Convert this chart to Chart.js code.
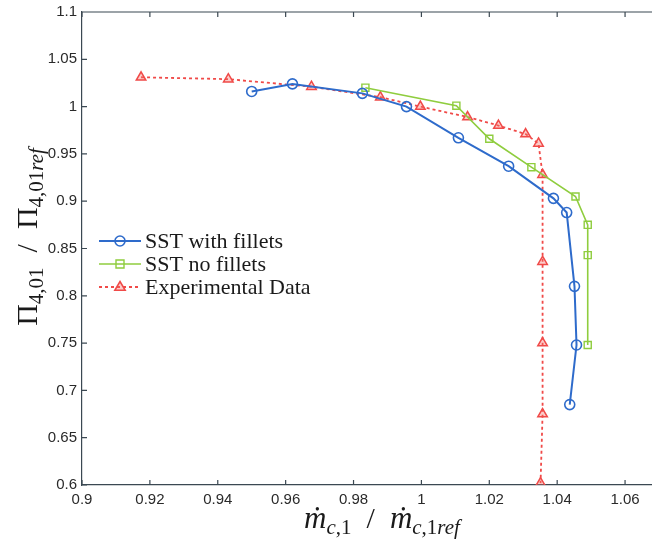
<!DOCTYPE html>
<html>
<head>
<meta charset="utf-8">
<script src="https://cdn.jsdelivr.net/npm/chart.js@4/dist/chart.umd.min.js"></script>
<style>
  html, body { margin: 0; background: #fff; overflow: hidden; }
  #wrap { width: 652px; height: 539px; overflow: hidden; }
  #inner { width: 666px; height: 539px; }
</style>
</head>
<body>
<div id="wrap"><div id="inner"><canvas id="chart" width="666" height="539"></canvas></div></div>
<script>
// valores
const sstFilletsX = [0.950, 0.962, 0.9826, 0.9956, 1.0109, 1.0257, 1.0389, 1.0428, 1.0451, 1.0457, 1.0437];
const sstFilletsY = [1.016, 1.024, 1.014, 1.000, 0.967, 0.937, 0.903, 0.888, 0.810, 0.748, 0.685];

const sstNoFilletsX = [0.9835, 1.0103, 1.0200, 1.0324, 1.0454, 1.0490, 1.0490, 1.0490];
const sstNoFilletsY = [1.020, 1.001, 0.966, 0.936, 0.905, 0.875, 0.843, 0.748];

const expX = [0.9174, 0.9431, 0.9676, 0.9879, 0.9997, 1.0136, 1.0227, 1.0307, 1.0345, 1.0357, 1.0357, 1.0357, 1.0357, 1.0351];
const expY = [1.031, 1.029, 1.021, 1.010, 1.000, 0.989, 0.980, 0.971, 0.961, 0.928, 0.836, 0.750, 0.675, 0.602];

// el eje x llega a 1.07 pero la figura esta cortada a la derecha (overflow hidden)
const xTicks = [0.9, 1.07, 0.02];
const yTicks = [0.6, 1.1, 0.05];

const toPoints = (xs, ys) => xs.map((x, i) => ({x: x, y: ys[i]}));

const axisColor = '#3b4852';
const fmt = v => String(Number(v.toFixed(2)));

// marcas hacia adentro, borde superior, leyenda y titulos con subindices
const extras = {
  id: 'extras',
  afterDraw(chart) {
    const c = chart.ctx;
    const a = chart.chartArea;
    const xs = chart.scales.x, ys = chart.scales.y;
    c.save();
    c.strokeStyle = axisColor;
    c.lineWidth = 1.2;
    c.beginPath();
    c.moveTo(a.left, a.top); c.lineTo(a.right, a.top);
    xs.ticks.forEach(t => {
      const px = xs.getPixelForValue(t.value);
      c.moveTo(px, a.bottom); c.lineTo(px, a.bottom - 5);
      c.moveTo(px, a.top); c.lineTo(px, a.top + 5);
    });
    ys.ticks.forEach(t => {
      const py = ys.getPixelForValue(t.value);
      c.moveTo(a.left, py); c.lineTo(a.left + 5, py);
    });
    c.stroke();

    // leyenda
    chart.data.datasets.forEach((ds, i) => {
      const y = 241 + i * 23;
      c.strokeStyle = ds.borderColor;
      c.lineWidth = ds.borderWidth;
      c.setLineDash(ds.borderDash || []);
      c.beginPath(); c.moveTo(99, y); c.lineTo(141, y); c.stroke();
      c.setLineDash([]);
      drawMarker(c, ds.pointStyle, 120, y, ds.pointRadius, ds.pointBackgroundColor, ds.borderColor, ds.pointBorderWidth);
      c.fillStyle = '#1a1a1a';
      c.font = '22px "Liberation Serif"';
      c.textBaseline = 'middle';
      c.textAlign = 'left';
      c.fillText(ds.label, 145, y + 1);
    });

    // titulos
    const big = 'italic 31px "Liberation Serif"';
    const bigUp = '30px "Liberation Serif"';
    const sub = 'italic 21px "Liberation Serif"';
    const subUp = '21px "Liberation Serif"';
    const xTitle = [
      {t: '\u1E41', f: big, dy: 0}, {t: 'c', f: sub, dy: 6}, {t: ',1', f: subUp, dy: 6},
      {t: '  /  ', f: bigUp, dy: 0},
      {t: '\u1E41', f: big, dy: 0}, {t: 'c', f: sub, dy: 6}, {t: ',1', f: subUp, dy: 6}, {t: 'ref', f: sub, dy: 6}
    ];
    const yTitle = [
      {t: '\u03A0', f: bigUp, dy: 0}, {t: '4,01', f: subUp, dy: 6},
      {t: '  /  ', f: bigUp, dy: 0},
      {t: '\u03A0', f: bigUp, dy: 0}, {t: '4,01', f: subUp, dy: 6}, {t: 'ref', f: sub, dy: 6}
    ];
    drawRich(c, xTitle, 382, 520, 0);
    drawRich(c, yTitle, 29, 237, -Math.PI / 2);
    c.restore();
  }
};

function drawMarker(c, style, x, y, r, fill, stroke, lw) {
  c.save();
  c.fillStyle = fill;
  c.strokeStyle = stroke;
  c.lineWidth = lw;
  c.beginPath();
  if (style === 'circle') {
    c.arc(x, y, r, 0, Math.PI * 2);
  } else if (style === 'rect') {
    c.rect(x - r * 0.8, y - r * 0.8, r * 1.6, r * 1.6);
  } else {
    c.moveTo(x, y - r);
    c.lineTo(x + r * 0.95, y + r * 0.6);
    c.lineTo(x - r * 0.95, y + r * 0.6);
    c.closePath();
  }
  c.fill();
  c.stroke();
  c.restore();
}

function drawRich(c, parts, cx, cy, rot) {
  c.save();
  c.translate(cx, cy);
  c.rotate(rot);
  c.fillStyle = '#1a1a1a';
  c.textBaseline = 'alphabetic';
  c.textAlign = 'left';
  let w = 0;
  parts.forEach(p => { c.font = p.f; p.w = c.measureText(p.t).width; w += p.w; });
  let x = -w / 2;
  parts.forEach(p => {
    c.font = p.f;
    c.fillText(p.t, x, 8 + p.dy);
    x += p.w;
  });
  c.restore();
}

const ctx = document.getElementById('chart').getContext('2d');
const chart = new Chart(ctx, {
  type: 'scatter',
  data: {
    datasets: [{
      label: 'SST with fillets',
      data: toPoints(sstFilletsX, sstFilletsY),
      showLine: true,
      borderColor: '#2e6bcb',
      borderWidth: 2,
      pointStyle: 'circle',
      pointRadius: 5,
      pointBackgroundColor: 'rgba(255,255,255,0)',
      pointBorderColor: '#2e6bcb',
      pointBorderWidth: 1.6
    }, {
      label: 'SST no fillets',
      data: toPoints(sstNoFilletsX, sstNoFilletsY),
      showLine: true,
      borderColor: '#8fcd3e',
      borderWidth: 1.6,
      pointStyle: 'rect',
      pointRadius: 5,
      pointBackgroundColor: 'rgba(255,255,255,0)',
      pointBorderColor: '#8fcd3e',
      pointBorderWidth: 1.4
    }, {
      label: 'Experimental Data',
      data: toPoints(expX, expY),
      showLine: true,
      borderColor: '#f04a48',
      borderWidth: 1.8,
      borderDash: [3, 3],
      pointStyle: 'triangle',
      pointRadius: 5.5,
      pointBackgroundColor: 'rgba(245,110,100,0.35)',
      pointBorderColor: '#f04a48',
      pointBorderWidth: 1.5
    }]
  },
  options: {
    responsive: false,
    animation: false,
    layout: { padding: { top: 12, left: 0, right: 0, bottom: 0 } },
    plugins: { legend: { display: false }, tooltip: { enabled: false } },
    scales: {
      x: {
        type: 'linear',
        min: xTicks[0], max: xTicks[1],
        grid: { display: false, drawTicks: false, tickLength: 0 },
        border: { display: true, color: axisColor, width: 1.2 },
        afterFit: s => { s.height = 54; },
        ticks: {
          stepSize: xTicks[2], includeBounds: false, autoSkip: false, maxRotation: 0,
          padding: 6, color: '#2a2a2a', font: { family: 'Liberation Sans', size: 15 },
          callback: fmt
        }
      },
      y: {
        type: 'linear',
        min: yTicks[0], max: yTicks[1],
        grid: { display: false, drawTicks: false, tickLength: 0 },
        border: { display: true, color: axisColor, width: 1.2 },
        afterFit: s => { s.width = 82; s.paddingTop = 0; s.paddingBottom = 0; },
        ticks: {
          stepSize: yTicks[2], includeBounds: false, autoSkip: false,
          padding: 5, color: '#2a2a2a', font: { family: 'Liberation Sans', size: 15 },
          callback: fmt
        }
      }
    }
  },
  plugins: [extras]
});
</script>
</body>
</html>
